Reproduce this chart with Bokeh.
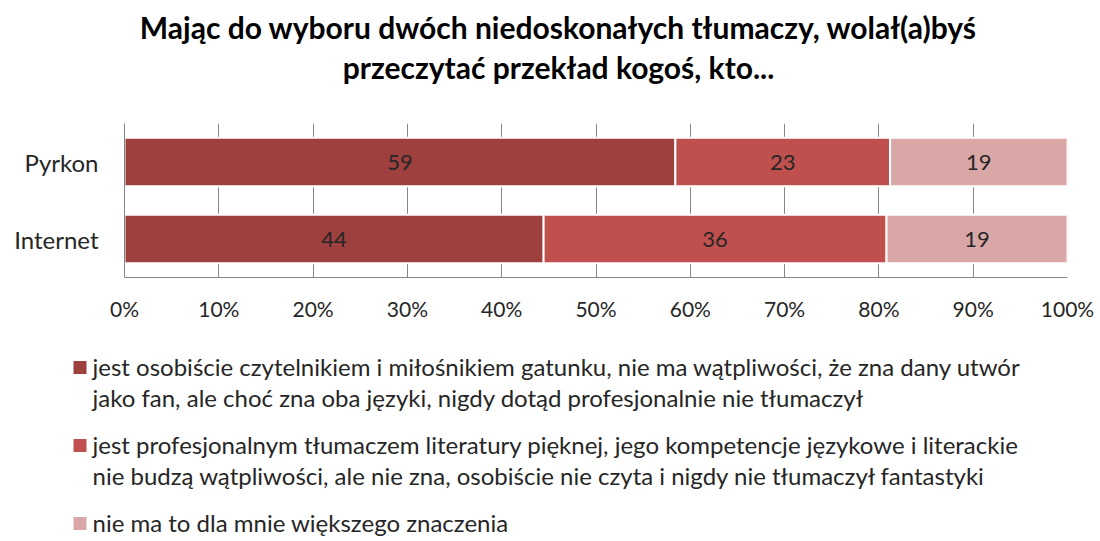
from bokeh.plotting import figure
from bokeh.layouts import column, row
from bokeh.models import FactorRange, Range1d, FixedTicker
from bokeh.core.properties import value
from bokeh.embed import file_html
from bokeh.resources import INLINE

# ---- data ----
title_lines = ["Mając do wyboru dwóch niedoskonałych tłumaczy, wolał(a)byś",
               "przeczytać przekład kogoś, kto..."]
categories = ["Pyrkon", "Internet"]
fan = [59, 44]
pro = [23, 36]
none_ = [19, 19]
series_labels = [
    ["jest osobiście czytelnikiem i miłośnikiem gatunku, nie ma wątpliwości, że zna dany utwór",
     "jako fan, ale choć zna oba języki, nigdy dotąd profesjonalnie nie tłumaczył"],
    ["jest profesjonalnym tłumaczem literatury pięknej, jego kompetencje językowe i literackie",
     "nie budzą wątpliwości, ale nie zna, osobiście nie czyta i nigdy nie tłumaczył fantastyki"],
    ["nie ma to dla mnie większego znaczenia"],
]
colors = ["#9D403E", "#C0504D", "#D9A7A6"]
ticks = [0, 10, 20, 30, 40, 50, 60, 70, 80, 90, 100]
tick_labels = ["0%", "10%", "20%", "30%", "40%", "50%", "60%", "70%", "80%", "90%", "100%"]

FONT = "Lato"
W = 1100
TXT = "#262626"


def blank(h):
    f = figure(width=W, height=h, x_range=Range1d(0, W), y_range=Range1d(h, 0),
               x_axis_type=None, y_axis_type=None,
               output_backend="svg", toolbar_location=None, min_border=0)
    f.grid.visible = False
    f.outline_line_color = None
    return f


# ---- title ----
tf = blank(108)
tf.text(x=[558, 558], y=[26, 66], text=title_lines, text_font=value(FONT),
        text_font_style="bold", text_font_size="30px", text_align="center",
        text_baseline="middle", text_color="#000000")

# ---- chart ----
series = [fan, pro, none_]
totals = [sum(s[i] for s in series) for i in range(len(categories))]
pcts = [[100.0 * s[i] / totals[i] for i in range(len(categories))] for s in series]

p = figure(width=W, height=230, y_range=FactorRange(factors=categories[::-1]),
           x_range=Range1d(0, 100), output_backend="svg", toolbar_location=None,
           min_border_left=124, min_border_right=33, min_border_top=15, min_border_bottom=61)
p.outline_line_color = None
left = [0.0] * len(categories)
for k, pc in enumerate(pcts):
    right = [left[i] + pc[i] for i in range(len(categories))]
    p.hbar(y=categories, left=left, right=right, height=0.63, fill_color=colors[k],
           line_color="white", line_width=2)
    mids = [(left[i] + right[i]) / 2 for i in range(len(categories))]
    p.text(x=mids, y=categories, text=[str(v) for v in series[k]], text_font=value(FONT),
           text_font_size="22px", text_align="center", text_baseline="middle",
           text_color=TXT)
    left = right

p.xaxis.ticker = FixedTicker(ticks=ticks)
p.xaxis.major_label_overrides = {t: l for t, l in zip(ticks, tick_labels)}
for ax in (p.xaxis, p.yaxis):
    ax.axis_line_color = "#868686"
    ax.major_tick_line_color = None
    ax.minor_tick_line_color = None
    ax.major_label_text_font = FONT
    ax.major_label_text_color = TXT
p.xaxis.major_label_text_font_size = "21px"
p.yaxis.major_label_text_font_size = "24px"
p.xaxis.major_label_standoff = 12
p.yaxis.major_label_standoff = 20
p.xgrid.grid_line_color = "#868686"
p.ygrid.grid_line_color = None

# ---- legend ----
lf = blank(203)
row_y = 28
line_gap = 31
item_gap = 16
for k, lines in enumerate(series_labels):
    lf.rect(x=[79.5], y=[row_y + 1], width=13, height=13, fill_color=colors[k], line_color=None)
    ys = [row_y + j * line_gap for j in range(len(lines))]
    lf.text(x=[92] * len(lines), y=ys, text=lines, text_font=value(FONT),
            text_font_size="24px", text_align="left", text_baseline="middle",
            text_color=TXT)
    row_y = ys[-1] + line_gap + item_gap

layout = column(row(tf), p, row(lf))
open("out.html", "w").write(file_html(layout, INLINE))
